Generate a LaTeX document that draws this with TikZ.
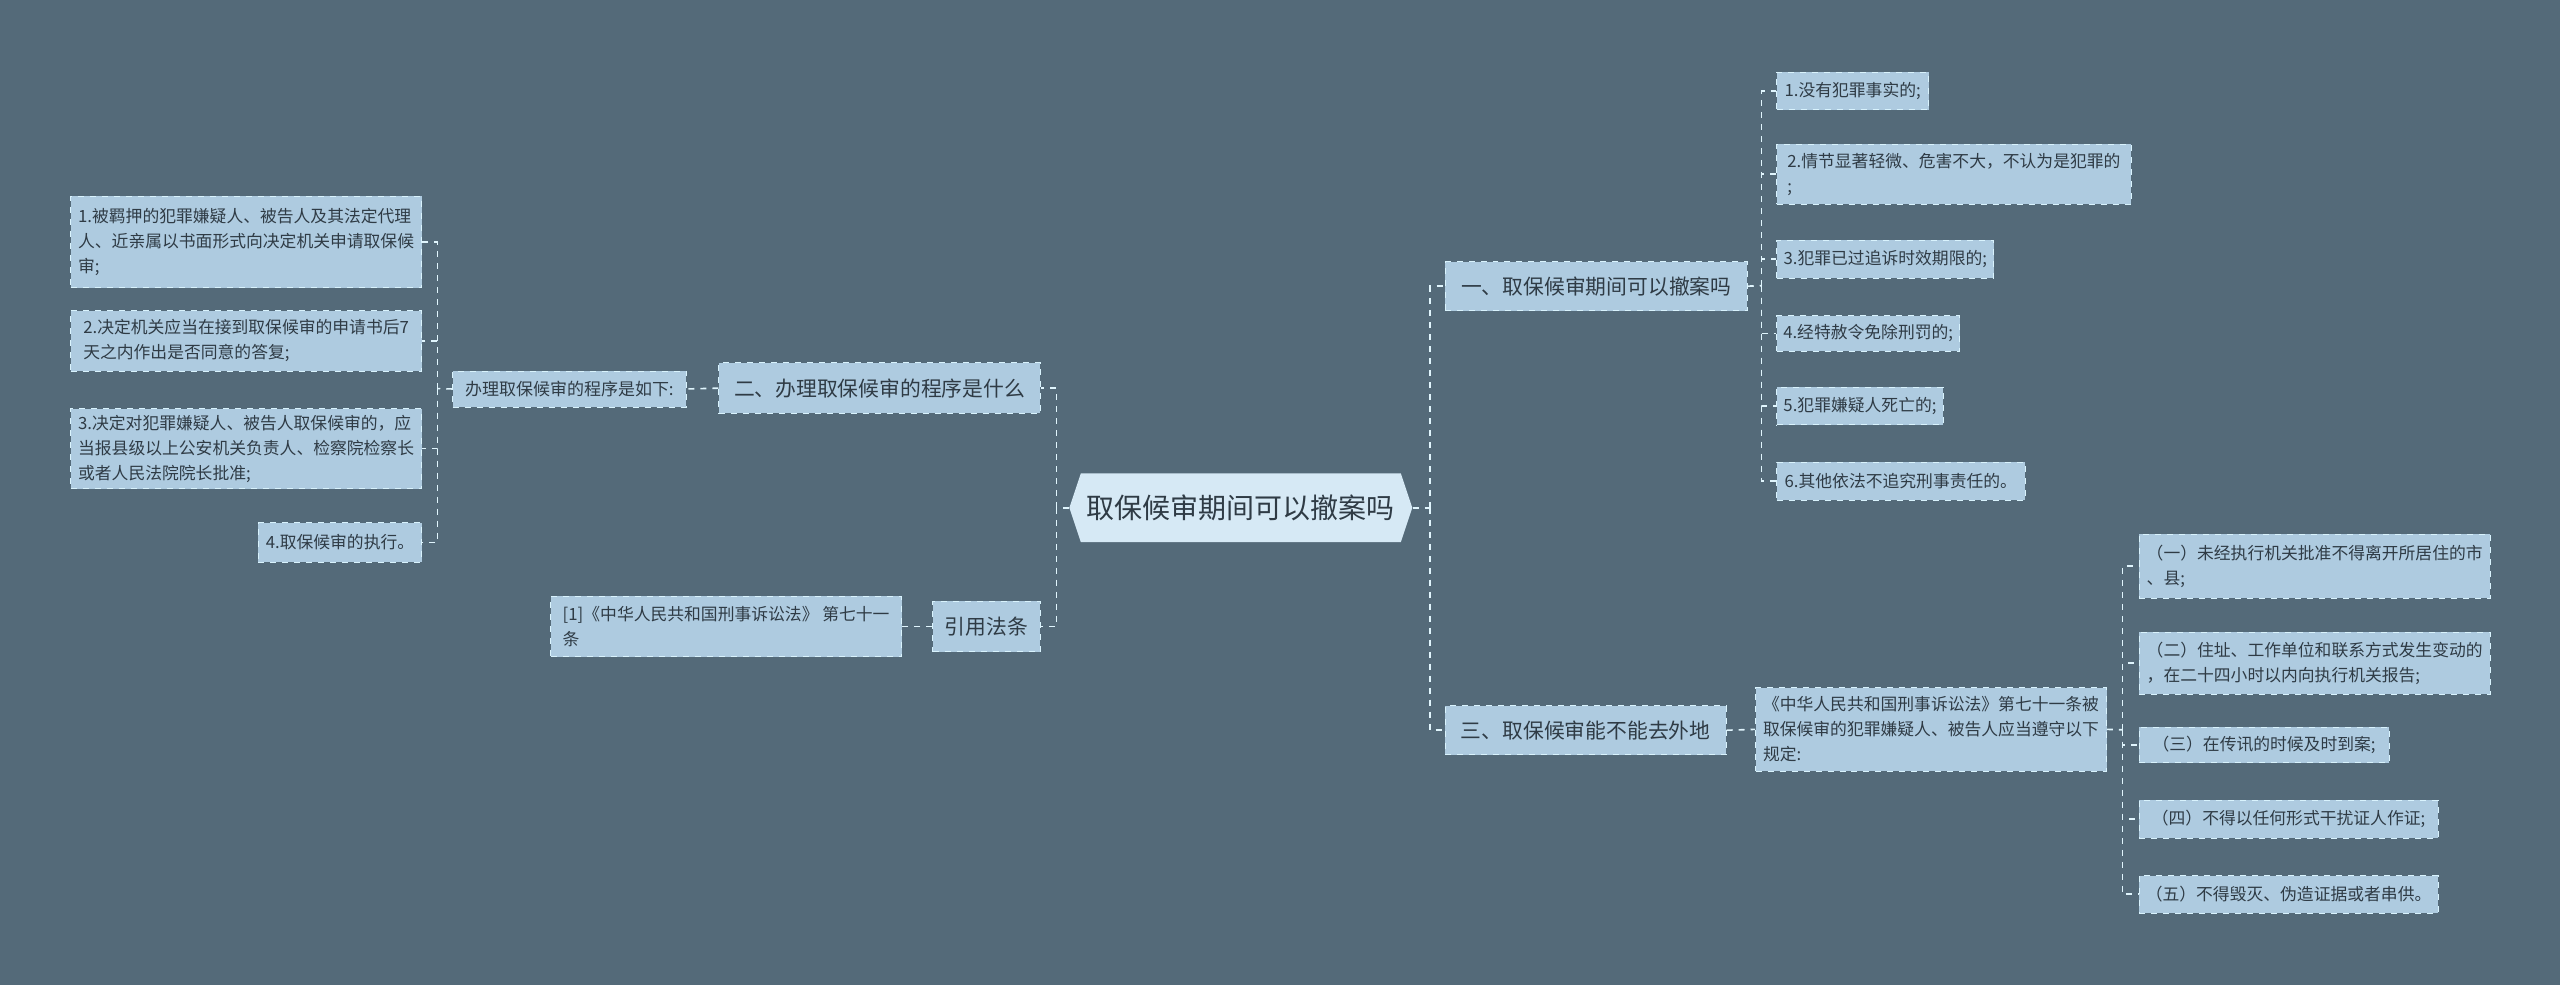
\documentclass[tikz,border=0pt]{standalone}
\usepackage{fontspec}
\setmainfont{Noto Sans CJK SC}
\begin{document}
\begin{tikzpicture}[x=0.8165pt,y=-0.8165pt,
  bx/.style 2 args={minimum width=#1*0.8165pt, minimum height=#2*0.8165pt},
  leaf/.style={draw=white!85!cyan, dashed, fill=boxc, text=txtc, align=left, anchor=north west, inner sep=2pt, font=\fontsize{8.4}{12.5}\selectfont},
  mid/.style={leaf, font=\fontsize{10.4}{13}\selectfont},
  con/.style={draw=white!88!cyan, dashed, line width=0.8pt}]
\definecolor{bgc}{HTML}{546A79}
\definecolor{boxc}{HTML}{AECBE0}
\definecolor{rootc}{HTML}{D6E9F5}
\definecolor{txtc}{HTML}{2F3B45}
\fill[bgc] (0,0) rectangle (1568,603);
\useasboundingbox (0,0) rectangle (1568,603);
% root
\fill[rootc] (655,311)--(662,290)--(858,290)--(865,311)--(858,332)--(662,332)--cycle;
\node[text=txtc, font=\fontsize{14}{16}\selectfont, bx={210}{42}] (root) at (760,311) {取保候审期间可以撤案吗};
% level 1
\node[mid, bx={185}{30}] (a) at (885,160) {一、取保候审期间可以撤案吗};
\node[mid, bx={172}{30}] (c) at (885,432) {三、取保候审能不能去外地};
\node[mid, bx={197}{31}] (b) at (440,222) {二、办理取保候审的程序是什么};
\node[mid, bx={66}{31}] (r) at (571,368) {引用法条};
% children of a
\node[leaf, bx={93}{23}] (a1) at (1088,44) {1.没有犯罪事实的;};
\node[leaf, bx={217}{37}] (a2) at (1088,88) {2.情节显著轻微、危害不大，不认为是犯罪的\\;};
\node[leaf, bx={133}{23}] (a3) at (1088,147) {3.犯罪已过追诉时效期限的;};
\node[leaf, bx={112}{22}] (a4) at (1088,193) {4.经特赦令免除刑罚的;};
\node[leaf, bx={102}{23}] (a5) at (1088,237) {5.犯罪嫌疑人死亡的;};
\node[leaf, bx={152}{23}] (a6) at (1088,283) {6.其他依法不追究刑事责任的。};
% child of c
\node[leaf, bx={215}{51}] (c0) at (1075,421) {《中华人民共和国刑事诉讼法》第七十一条被\\取保候审的犯罪嫌疑人、被告人应当遵守以下\\规定:};
\node[leaf, bx={215}{39}] (c1) at (1310,327) {（一）未经执行机关批准不得离开所居住的市\\、县;};
\node[leaf, bx={215}{38}] (c2) at (1310,387) {（二）住址、工作单位和联系方式发生变动的\\，在二十四小时以内向执行机关报告;};
\node[leaf, bx={153}{22}] (c3) at (1310,445) {（三）在传讯的时候及时到案;};
\node[leaf, bx={183}{23}] (c4) at (1310,490) {（四）不得以任何形式干扰证人作证;};
\node[leaf, bx={183}{23}] (c5) at (1310,536) {（五）不得毁灭、伪造证据或者串供。};
% left
\node[leaf, font=\fontsize{8.5}{12}\selectfont, bx={143}{22}] (p) at (277,227) {办理取保候审的程序是如下:};
\node[leaf, bx={215}{56}] (p1) at (43,120) {1.被羁押的犯罪嫌疑人、被告人及其法定代理\\人、近亲属以书面形式向决定机关申请取保候\\审;};
\node[leaf, bx={215}{37}] (p2) at (43,190) {2.决定机关应当在接到取保候审的申请书后7\\天之内作出是否同意的答复;};
\node[leaf, bx={215}{49}] (p3) at (43,250) {3.决定对犯罪嫌疑人、被告人取保候审的，应\\当报县级以上公安机关负责人、检察院检察长\\或者人民法院院长批准;};
\node[leaf, bx={100}{24}] (p4) at (158,320) {4.取保候审的执行。};
\node[leaf, bx={215}{37}] (q) at (337,365) {[1]《中华人民共和国刑事诉讼法》 第七十一\\条};
% connectors
\coordinate (rr) at (876,311); \coordinate (rl) at (647,311);
\draw[con] (root.east) -- (rr);
\foreach \n in {a,c} \draw[con] (rr) |- (\n.west);
\draw[con] (root.west) -- (rl);
\foreach \n in {b,r} \draw[con] (rl) |- (\n.east);
\coordinate (av) at (1079,175);
\draw[con] (a.east) -- (av);
\foreach \n in {a1,a2,a3,a4,a5,a6} \draw[con] (av) |- (\n.west);
\draw[con] (c.east) -- (c0.west);
\coordinate (cv) at (1300,447);
\draw[con] (c0.east) -- (cv);
\foreach \n in {c1,c2,c3,c4,c5} \draw[con] (cv) |- (\n.west);
\draw[con] (b.west) -- (p.east);
\coordinate (pv) at (268,238);
\draw[con] (p.west) -- (pv);
\foreach \n in {p1,p2,p3,p4} \draw[con] (pv) |- (\n.east);
\draw[con] (r.west) -- (q.east);
\end{tikzpicture}
\end{document}
